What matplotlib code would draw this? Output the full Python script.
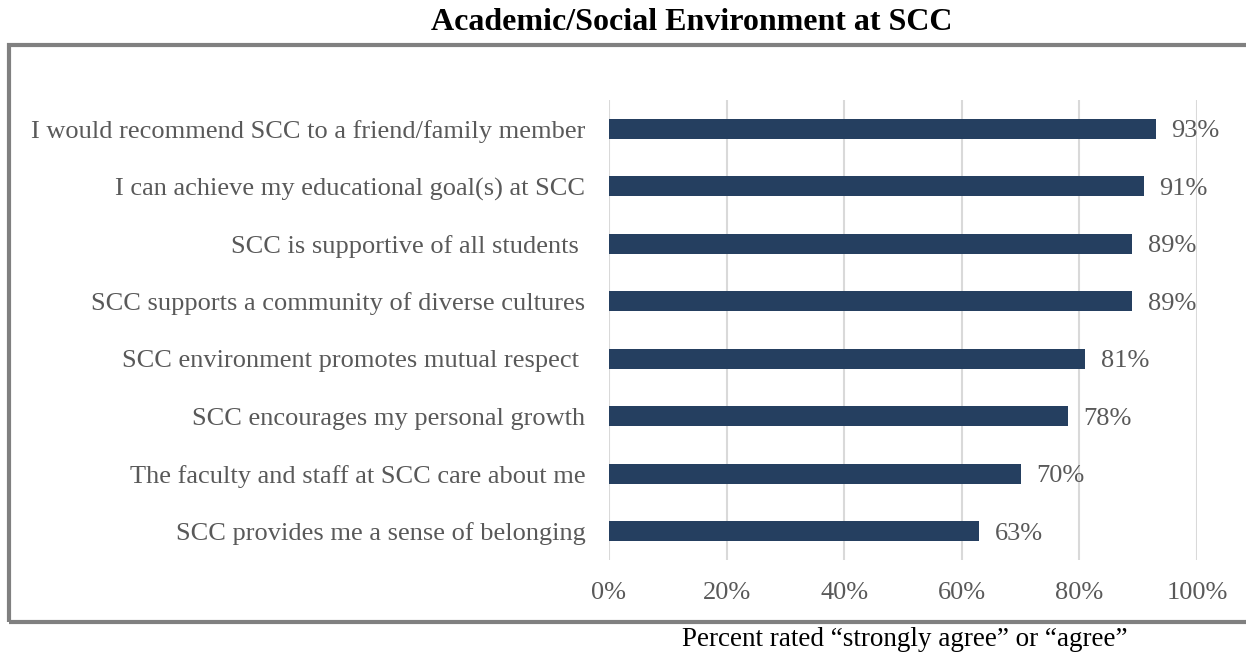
import matplotlib.pyplot as plt
from matplotlib.patches import Rectangle

# -----------------------------------------------------------------------------
# Data
# -----------------------------------------------------------------------------
statements = [
    "I would recommend SCC to a friend/family member",
    "I can achieve my educational goal(s) at SCC",
    "SCC is supportive of all students ",
    "SCC supports a community of diverse cultures",
    "SCC environment promotes mutual respect ",
    "SCC encourages my personal growth",
    "The faculty and staff at SCC care about me",
    "SCC provides me a sense of belonging",
]
percents = [93, 91, 89, 89, 81, 78, 70, 63]
x_ticks = [0, 20, 40, 60, 80, 100]

BAR_COLOUR = "#253f60"
GREY_TEXT = "#595959"
GRID_COLOUR = "#d9d9d9"
FRAME_COLOUR = "#808080"

plt.rcParams["font.family"] = ["Liberation Serif", "DejaVu Serif"]

W, H = 1246, 656
fig = plt.figure(figsize=(W / 100, H / 100), dpi=100)
ax = fig.add_axes([609 / W, 1 - 560 / H, (1197 - 609) / W, (560 - 100) / H])

ypos = list(range(len(statements)))[::-1]
ax.barh(ypos, percents, height=0.35, color=BAR_COLOUR, zorder=3)
for y, v in zip(ypos, percents):
    ax.text(v + 2.6, y, f"{v}%", va="center_baseline", ha="left", fontsize=19, color=GREY_TEXT)

ax.set_xlim(0, 100)
ax.set_ylim(-0.5, len(statements) - 0.5)
ax.set_xticks(x_ticks)
ax.set_xticklabels([f"{t}%" for t in x_ticks])
ax.set_yticks(ypos)
ax.set_yticklabels(statements)
ax.tick_params(axis="both", length=0, labelsize=19, labelcolor=GREY_TEXT)
ax.tick_params(axis="x", pad=16)
ax.tick_params(axis="y", pad=17)
ax.grid(axis="x", color=GRID_COLOUR, linewidth=1.5, zorder=0)
for side in ax.spines.values():
    side.set_visible(False)

# outer frame (right edge runs past the picture)
frame = Rectangle((9 / W, 1 - 622 / H), 1.05, (622 - 45) / H, transform=fig.transFigure,
                  fill=False, edgecolor=FRAME_COLOUR, linewidth=3, clip_on=False)
fig.patches.append(frame)

fig.text(692 / W, 1 - 22 / H, "Academic/Social Environment at SCC", ha="center", va="center",
         fontsize=23, fontweight="bold", color="black")
fig.text(905 / W, 1 - 640 / H, "Percent rated \u201cstrongly agree\u201d or \u201cagree\u201d",
         ha="center", va="center", fontsize=19.5, color="black")

fig.savefig("out.png", dpi=100)
